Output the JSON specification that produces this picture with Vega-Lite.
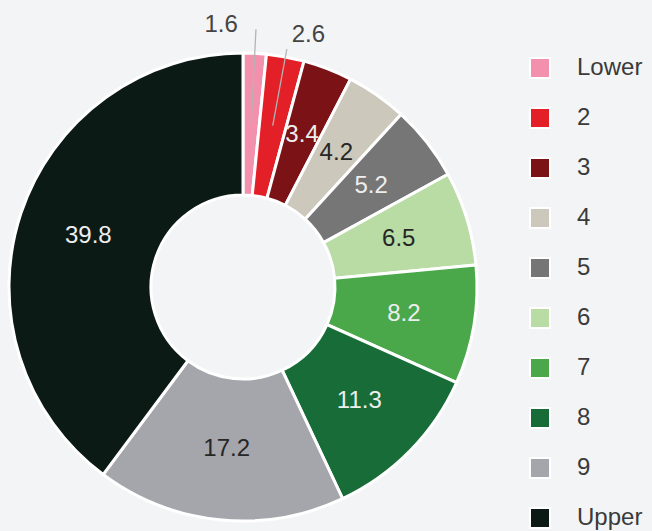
{
  "$schema": "https://vega.github.io/schema/vega-lite/v6.json",
  "width": 486,
  "height": 486,
  "autosize": {"type": "none"},
  "padding": {"left": 0, "top": 44, "right": 166, "bottom": 1},
  "background": "#f3f4f6",
  "config": {
    "view": {"stroke": null},
    "font": "Liberation Sans",
    "text": {"font": "Liberation Sans"}
  },
  "data": {
    "values": [
      {"cat": "Lower", "rank": 1, "value": 1.6},
      {"cat": "2", "rank": 2, "value": 2.6},
      {"cat": "3", "rank": 3, "value": 3.4},
      {"cat": "4", "rank": 4, "value": 4.2},
      {"cat": "5", "rank": 5, "value": 5.2},
      {"cat": "6", "rank": 6, "value": 6.5},
      {"cat": "7", "rank": 7, "value": 8.2},
      {"cat": "8", "rank": 8, "value": 11.3},
      {"cat": "9", "rank": 9, "value": 17.2},
      {"cat": "Upper", "rank": 10, "value": 39.8}
    ]
  },
  "layer": [
    {
      "mark": {"type": "arc", "outerRadius": 234, "innerRadius": 92, "stroke": "white", "strokeWidth": 3},
      "encoding": {
        "theta": {"field": "value", "type": "quantitative", "stack": true, "scale": {"domain": [0, 100]}},
        "order": {"field": "rank", "type": "quantitative"},
        "color": {
          "field": "cat",
          "type": "nominal",
          "scale": {
            "domain": ["Lower", "2", "3", "4", "5", "6", "7", "8", "9", "Upper"],
            "range": ["#f390ae", "#e32028", "#7a1216", "#ccc8bc", "#767676", "#b8dca4", "#4aa84a", "#176c38", "#a4a6ac", "#0c1a16"]
          },
          "legend": {
            "title": null,
            "orient": "none",
            "legendX": 528,
            "legendY": 12,
            "padding": 0,
            "symbolType": "square",
            "symbolSize": 400,
            "symbolStrokeColor": "white",
            "symbolStrokeWidth": 2,
            "symbolOpacity": 1,
            "labelFont": "Liberation Sans",
            "labelFontSize": 24,
            "labelColor": "#3a3a3a",
            "labelOffset": 25,
            "rowPadding": 22,
            "labelLimit": 200
          }
        }
      }
    },
    {
      "transform": [
        {"stack": "value", "groupby": [], "sort": [{"field": "rank", "order": "ascending"}], "as": ["s", "e"]},
        {"fold": ["s", "e"], "as": ["k", "v"]},
        {"aggregate": [{"op": "mean", "field": "v", "as": "mid"}], "groupby": ["cat"]},
        {"filter": "datum.cat === 'Lower'"}
      ],
      "mark": {"type": "arc", "radius": 258, "radius2": 164, "fillOpacity": 0, "stroke": "#b4b4b4", "strokeWidth": 1.3},
      "encoding": {
        "theta": {"field": "mid", "type": "quantitative"},
        "theta2": {"field": "mid"}
      }
    },
    {
      "transform": [
        {"stack": "value", "groupby": [], "sort": [{"field": "rank", "order": "ascending"}], "as": ["s", "e"]},
        {"fold": ["s", "e"], "as": ["k", "v"]},
        {"aggregate": [{"op": "mean", "field": "v", "as": "mid"}], "groupby": ["cat"]},
        {"filter": "datum.cat === '2'"}
      ],
      "mark": {"type": "arc", "radius": 242, "radius2": 164, "fillOpacity": 0, "stroke": "#b4b4b4", "strokeWidth": 1.3},
      "encoding": {
        "theta": {"field": "mid", "type": "quantitative"},
        "theta2": {"field": "mid"}
      }
    },
    {
      "mark": {"type": "text", "radius": 163, "fontSize": 24, "align": "center", "baseline": "middle"},
      "encoding": {
        "theta": {"field": "value", "type": "quantitative", "stack": true},
        "order": {"field": "rank", "type": "quantitative"},
        "detail": {"field": "cat", "type": "nominal"},
        "text": {"field": "value", "type": "quantitative", "format": ".1f"},
        "color": {
          "condition": {"test": "indexof(['4', '6', '9'], datum.cat) >= 0", "value": "#262626"},
          "value": "#eeeeee"
        },
        "opacity": {
          "condition": {"test": "datum.cat === 'Lower' || datum.cat === '2'", "value": 0},
          "value": 1
        }
      }
    },
    {
      "mark": {"type": "text", "radius": 262, "dx": -35, "fontSize": 24, "align": "center", "baseline": "middle", "color": "#444444"},
      "encoding": {
        "theta": {"field": "value", "type": "quantitative", "stack": true},
        "order": {"field": "rank", "type": "quantitative"},
        "detail": {"field": "cat", "type": "nominal"},
        "text": {"field": "value", "type": "quantitative", "format": ".1f"},
        "opacity": {
          "condition": {"test": "datum.cat === 'Lower'", "value": 1},
          "value": 0
        }
      }
    },
    {
      "mark": {"type": "text", "radius": 256, "dx": 19, "fontSize": 24, "align": "center", "baseline": "middle", "color": "#444444"},
      "encoding": {
        "theta": {"field": "value", "type": "quantitative", "stack": true},
        "order": {"field": "rank", "type": "quantitative"},
        "detail": {"field": "cat", "type": "nominal"},
        "text": {"field": "value", "type": "quantitative", "format": ".1f"},
        "opacity": {
          "condition": {"test": "datum.cat === '2'", "value": 1},
          "value": 0
        }
      }
    }
  ]
}
